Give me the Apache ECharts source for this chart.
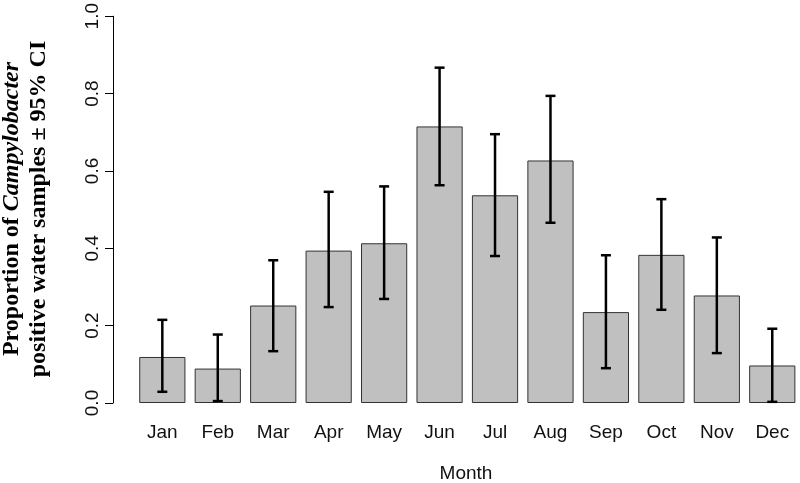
<!DOCTYPE html>
<html><head><meta charset="utf-8">
<script src="https://cdn.jsdelivr.net/npm/echarts@6/dist/echarts.min.js"></script>
<style>html,body{margin:0;padding:0;background:#fff}#c{width:800px;height:483px}</style>
</head><body><div id="c"></div>
<script>
const months = ['Jan','Feb','Mar','Apr','May','Jun','Jul','Aug','Sep','Oct','Nov','Dec'];
const proportion = [0.119,0.089,0.252,0.394,0.413,0.715,0.537,0.627,0.235,0.383,0.278,0.097];
const ciLower = [0.029,0.005,0.134,0.248,0.269,0.563,0.380,0.466,0.090,0.241,0.129,0.003];
const ciUpper = [0.215,0.177,0.369,0.546,0.560,0.867,0.695,0.794,0.382,0.527,0.428,0.192];
const yTicks = [0,0.2,0.4,0.6,0.8,1.0];

const chart = echarts.init(document.getElementById('c'), null, {renderer:'canvas'});
const errData = months.map((m,i)=>[i, ciLower[i], ciUpper[i]]);
chart.setOption({
  animation:false,
  grid:{left:134.6, right:-3.3, top:14, bottom:80},
  xAxis:{type:'category', data:months,
    axisLine:{show:false}, axisTick:{show:false},
    axisLabel:{color:'#111', fontFamily:'Liberation Sans', fontSize:19, margin:20}},
  yAxis:{type:'value', min:yTicks[0], max:yTicks[yTicks.length-1], interval:0.2, offset:21.6,
    axisLine:{show:true, lineStyle:{color:'#000', width:1}},
    axisTick:{show:true, length:8, lineStyle:{color:'#000'}},
    splitLine:{show:false},
    axisLabel:{color:'#111', fontFamily:'Liberation Sans', fontSize:19, rotate:90, margin:11,
      formatter:v=>v.toFixed(1)}},
  series:[
    {type:'bar', data:proportion, barCategoryGap:'16.67%',
      itemStyle:{color:'#c0c0c0', borderColor:'#333', borderWidth:1}},
    {type:'custom', data:errData, z:10,
      renderItem:(params, api)=>{
        const x = api.value(0);
        const lo = api.coord([x, api.value(1)]);
        const hi = api.coord([x, api.value(2)]);
        const cx = lo[0], w = 5;
        const st = {stroke:'#000', lineWidth:2.5};
        return {type:'group', children:[
          {type:'line', shape:{x1:cx, y1:lo[1], x2:cx, y2:hi[1]}, style:st},
          {type:'line', shape:{x1:cx-w, y1:lo[1], x2:cx+w, y2:lo[1]}, style:st},
          {type:'line', shape:{x1:cx-w, y1:hi[1], x2:cx+w, y2:hi[1]}, style:st}
        ]};
      }}
  ],
  graphic:[
    {type:'text', x:466, y:474, style:{text:'Month', fontFamily:'Liberation Sans', fontSize:19, fill:'#111', align:'center', verticalAlign:'middle'}},
    {type:'text', x:25, y:209, rotation:Math.PI/2,
      style:{text:'{b|Proportion of }{i|Campylobacter}\n{b|positive water samples ± 95% CI}',
        align:'center', verticalAlign:'middle', lineHeight:27,
        rich:{
          b:{fontFamily:'Liberation Serif', fontWeight:'bold', fontSize:24, fill:'#000', lineHeight:27},
          i:{fontFamily:'Liberation Serif', fontWeight:'bold', fontStyle:'italic', fontSize:24, fill:'#000', lineHeight:27}
        }}}
  ]
});
</script></body></html>
